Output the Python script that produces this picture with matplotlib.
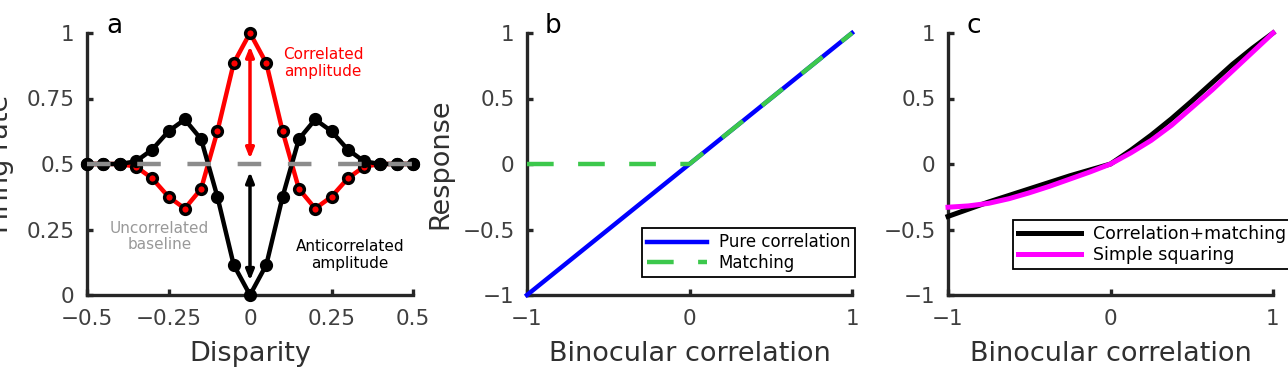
import numpy as np
import matplotlib
matplotlib.use("Agg")
import matplotlib.pyplot as plt

# ---- data ----
# panel a: disparity tuning curves
disparity = [-0.5, -0.45, -0.4, -0.35, -0.3, -0.25, -0.2, -0.15, -0.1, -0.05, 0.0,
             0.05, 0.1, 0.15, 0.2, 0.25, 0.3, 0.35, 0.4, 0.45, 0.5]
rate_corr = [0.5, 0.5, 0.5, 0.49, 0.445, 0.375, 0.33, 0.405, 0.625, 0.885, 1.0,
             0.885, 0.625, 0.405, 0.33, 0.375, 0.445, 0.49, 0.5, 0.5, 0.5]
rate_anti = [0.5, 0.5, 0.5, 0.51, 0.555, 0.625, 0.67, 0.595, 0.375, 0.115, 0.0,
             0.115, 0.375, 0.595, 0.67, 0.625, 0.555, 0.51, 0.5, 0.5, 0.5]
base_x = [-0.5, 0.5]
base_y = [0.5, 0.5]
corr_arrow = (0.95, 0.52)
anti_arrow = (0.47, 0.055)

# panel b: response vs binocular correlation
pure_x = [-1, 1]
pure_y = [-1, 1]
match_x = [-1, 0, 1]
match_y = [0, 0, 1]

# panel c
corr_c = [-1.0, -0.875, -0.75, -0.625, -0.5, -0.375, -0.25, -0.125, 0.0,
          0.125, 0.25, 0.375, 0.5, 0.625, 0.75, 0.875, 1.0]
corrmatch = [-0.40, -0.345, -0.29, -0.24, -0.19, -0.14, -0.09, -0.045, 0.0,
             0.105, 0.22, 0.345, 0.48, 0.62, 0.76, 0.885, 1.0]
squaring = [-0.33, -0.32, -0.30, -0.265, -0.22, -0.17, -0.115, -0.06, 0.0,
            0.085, 0.18, 0.295, 0.43, 0.565, 0.71, 0.855, 1.0]

xt_a = [-0.5, -0.25, 0, 0.25, 0.5]
xtl_a = ['\u22120.5', '\u22120.25', '0', '0.25', '0.5']
yt_a = [0, 0.25, 0.5, 0.75, 1]
ytl_a = ['0', '0.25', '0.5', '0.75', '1']
xt_bc = [-1, 0, 1]
xtl_bc = ['\u22121', '0', '1']
yt_bc = [-1, -0.5, 0, 0.5, 1]
ytl_bc = ['\u22121', '\u22120.5', '0', '0.5', '1']

spine_col = '#262626'
tick_col = '#404040'
red = '#ff0000'
grey = '#8c8c8c'
blue = '#0000ff'
green = '#3cc84c'
magenta = '#ff00ff'

plt.rcParams['font.family'] = 'DejaVu Sans'

W, H = 1288., 368.
fig = plt.figure(figsize=(12.88, 3.68), dpi=100)
axa = fig.add_axes([87/W, 73/H, 326/W, 262/H])
axb = fig.add_axes([527/W, 73/H, 325/W, 262/H])
axc = fig.add_axes([948/W, 73/H, 325/W, 262/H])


def style(ax, xt, xtl, yt, ytl, xl, yl):
    for s in ['top', 'right']:
        ax.spines[s].set_visible(False)
    for s in ['left', 'bottom']:
        ax.spines[s].set_linewidth(2.4)
        ax.spines[s].set_color(spine_col)
    ax.set_xlim(xt[0], xt[-1])
    ax.set_ylim(yt[0], yt[-1])
    ax.set_xticks(xt)
    ax.set_xticklabels(xtl)
    ax.set_yticks(yt)
    ax.set_yticklabels(ytl)
    ax.tick_params(direction='in', length=4, width=2.4, color=spine_col,
                   labelcolor=tick_col, labelsize=15.5)
    ax.tick_params(axis='x', pad=10)
    ax.tick_params(axis='y', pad=9)
    ax.set_xlabel(xl, fontsize=19.5, color='#303030')
    ax.xaxis.set_label_coords(0.5, -0.175)
    if yl:
        ax.set_ylabel(yl, fontsize=19.5, color='#303030')
        ax.yaxis.set_label_coords(-0.225, 0.5)


# panel a
axa.plot(disparity, rate_corr, '-o', color=red, lw=3.2, ms=7, mew=2.5,
         mfc=red, mec='k', clip_on=False, zorder=3)
axa.plot(disparity, rate_anti, '-o', color='k', lw=3.2, ms=7, mew=2.5,
         mfc='k', mec='k', clip_on=False, zorder=4)
axa.plot(base_x, base_y, color=grey, lw=3.2, dashes=(5.3, 6), clip_on=False, zorder=5)
axa.annotate('', xy=(0, corr_arrow[1]), xytext=(0, corr_arrow[0]),
             arrowprops=dict(arrowstyle='<|-|>,head_length=0.5,head_width=0.2',
                             color=red, lw=2.5, shrinkA=0, shrinkB=0, mutation_scale=12))
axa.annotate('', xy=(0, anti_arrow[1]), xytext=(0, anti_arrow[0]),
             arrowprops=dict(arrowstyle='<|-|>,head_length=0.5,head_width=0.2',
                             color='k', lw=2.5, shrinkA=0, shrinkB=0, mutation_scale=12))
axa.text(0.224, 0.885, 'Correlated\namplitude', color=red, fontsize=11,
         ha='center', va='center', linespacing=1.15)
axa.text(-0.278, 0.223, 'Uncorrelated\nbaseline', color='#999999', fontsize=11,
         ha='center', va='center', linespacing=1.15)
axa.text(0.306, 0.153, 'Anticorrelated\namplitude', color='k', fontsize=11,
         ha='center', va='center', linespacing=1.15)
style(axa, xt_a, xtl_a, yt_a, ytl_a, 'Disparity', 'Firing rate')
axa.text(0.058, 1.0, 'a', transform=axa.transAxes, fontsize=19, va='baseline')

# panel b
axb.plot(pure_x, pure_y, color=blue, lw=3.2, label='Pure correlation',
         clip_on=False, zorder=3)
axb.plot(match_x, match_y, color=green, lw=3.2, dashes=(6, 5.5), label='Matching',
         clip_on=False, zorder=4)
style(axb, xt_bc, xtl_bc, yt_bc, ytl_bc, 'Binocular correlation', 'Response')
axb.text(0.055, 1.0, 'b', transform=axb.transAxes, fontsize=19, va='baseline')
lg = axb.legend(loc='lower left', bbox_to_anchor=(0.354, 0.069), fontsize=12,
                fancybox=False, edgecolor='k', framealpha=1, handlelength=3.6,
                labelspacing=0.15, borderpad=0.3, handletextpad=0.7,
                borderaxespad=0)
lg.get_frame().set_linewidth(1.3)

# panel c
axc.plot(corr_c, corrmatch, color='k', lw=3.6, label='Correlation+matching',
         clip_on=False, zorder=3)
axc.plot(corr_c, squaring, color=magenta, lw=3.6, label='Simple squaring',
         clip_on=False, zorder=4)
style(axc, xt_bc, xtl_bc, yt_bc, ytl_bc, 'Binocular correlation', None)
axc.text(0.058, 1.0, 'c', transform=axc.transAxes, fontsize=19, va='baseline')
lg = axc.legend(loc='lower left', bbox_to_anchor=(0.2, 0.099), fontsize=12.5,
                fancybox=False, edgecolor='k', framealpha=1, handlelength=3.6,
                labelspacing=0.15, borderpad=0.3, handletextpad=0.7,
                borderaxespad=0)
lg.get_frame().set_linewidth(1.3)

fig.savefig('out.png', dpi=100)
